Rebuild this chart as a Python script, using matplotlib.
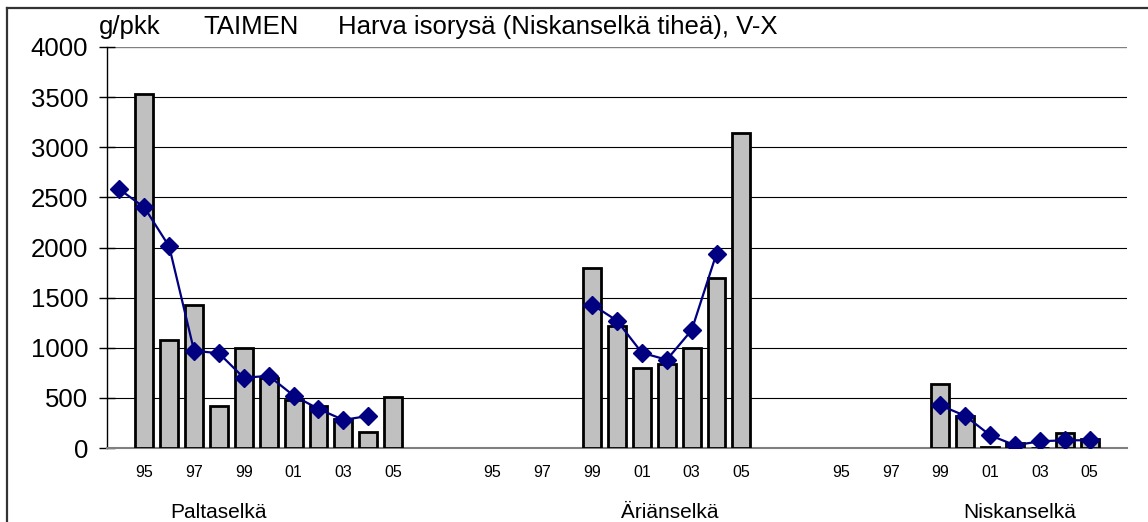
import numpy as np
import matplotlib
matplotlib.use("Agg")
import matplotlib.pyplot as plt
from matplotlib.lines import Line2D

plt.rcParams['font.family'] = ['Liberation Sans', 'DejaVu Sans']

years = ["94", "95", "96", "97", "98", "99", "00", "01", "02", "03", "04", "05"]
shown_years = ["95", "97", "99", "01", "03", "05"]
groups = ["Paltaselkä", "Äriänselkä", "Niskanselkä"]
nan = np.nan

# bars (g/pkk) per lake, 1994..2005
palta_bar = [nan, 3530, 1080, 1430, 420, 1000, 700, 475, 420, 290, 160, 510]
arjan_bar = [nan, nan, nan, nan, nan, 1800, 1220, 800, 840, 1000, 1700, 3140]
niska_bar = [nan, nan, nan, nan, nan, 640, 320, 12, 50, 0, 150, 90]

# line (diamonds) per lake
palta_line = [2580, 2400, 2010, 970, 945, 700, 720, 523, 390, 280, 320, nan]
arjan_line = [nan, nan, nan, nan, nan, 1430, 1270, 950, 880, 1175, 1940, nan]
niska_line = [nan, nan, nan, nan, nan, 425, 320, 127, 27, 67, 77, 77]

bars = [palta_bar, arjan_bar, niska_bar]
lines = [palta_line, arjan_line, niska_line]
yticks = [0, 500, 1000, 1500, 2000, 2500, 3000, 3500, 4000]

W, H = 1148, 522
fig = plt.figure(figsize=(W / 100, H / 100), dpi=100)
ax = fig.add_axes([107 / W, 1 - 448 / H, (1127 - 107) / W, (448 - 47) / H])

stride = 14
xt, xl = [], []
for g in range(3):
    x = np.arange(len(years)) + g * stride
    ax.bar(x, bars[g], width=0.72, color='#C0C0C0', edgecolor='black',
           linewidth=2.0, zorder=3)
    ax.plot(x, lines[g], color='#000080', linewidth=1.6, marker='D',
            markersize=9, markerfacecolor='#000080', markeredgecolor='#000080',
            zorder=4)
    for i, y in enumerate(years):
        if y in shown_years:
            xt.append(x[i])
            xl.append(y)

ax.set_xlim(-0.5, 40.5)
ax.set_ylim(0, 4000)
for v in yticks[1:-1]:
    ax.axhline(v, color='black', linewidth=0.8, zorder=1)
ax.axhline(4000, color='#808080', linewidth=1.0, zorder=1)

ax.set_yticks(yticks)
ax.set_yticklabels([str(v) for v in yticks], fontsize=18.5)
ax.tick_params(axis='y', direction='inout', length=11, width=1, color='black', pad=8)
ax.set_xticks(xt)
ax.set_xticklabels(xl, fontsize=11.5)
ax.tick_params(axis='x', length=0, pad=12)

for s in ['top', 'right']:
    ax.spines[s].set_visible(False)
ax.spines['left'].set_color('black')
ax.spines['left'].set_linewidth(1.0)
ax.spines['bottom'].set_color('#808080')
ax.spines['bottom'].set_linewidth(1.5)

# group labels
for name, px in zip(groups, [218, 670, 1020]):
    fig.text(px / W, 1 - 512 / H, name, fontsize=15, ha='center', va='center')

# title pieces
fig.text(99 / W, 1 - 27 / H, "g/pkk", fontsize=18.5, ha='left', va='center')
fig.text(203 / W, 1 - 27 / H, "TAIMEN", fontsize=18.5, ha='left', va='center')
fig.text(338 / W, 1 - 27 / H, "Harva isorysä (Niskanselkä tiheä), V-X",
         fontsize=18.5, ha='left', va='center')

# outer frame (top and left edges visible)
fig.add_artist(Line2D([7 / W, 7 / W], [0, 1 - 8 / H], transform=fig.transFigure,
                      color='#333333', linewidth=1.6))
fig.add_artist(Line2D([7 / W, 1], [1 - 8 / H, 1 - 8 / H], transform=fig.transFigure,
                      color='#333333', linewidth=1.6))

fig.savefig("out.png", dpi=100)
